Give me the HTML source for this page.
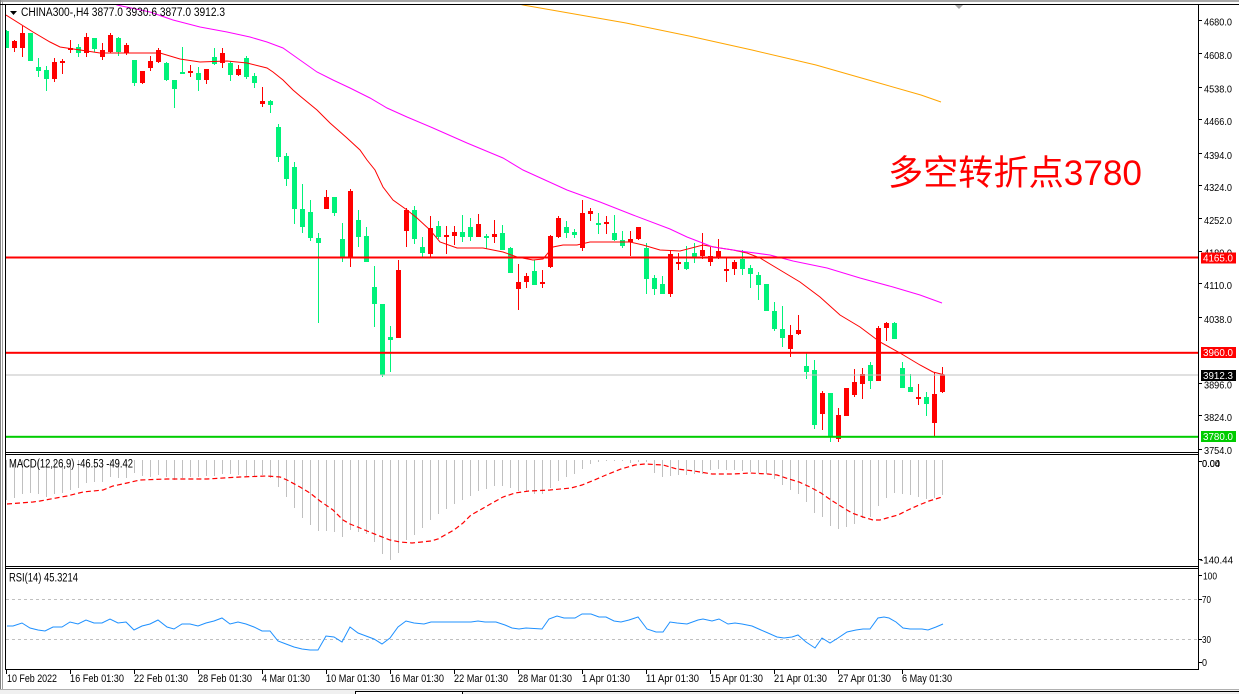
<!DOCTYPE html>
<html><head><meta charset="utf-8"><style>
html,body{margin:0;padding:0;background:#fff;}
svg{display:block;}
text{font-family:"Liberation Sans","Noto Sans CJK SC",sans-serif;}
</style></head><body>
<svg width="1239" height="694" viewBox="0 0 1239 694" xmlns="http://www.w3.org/2000/svg">
<defs>
<clipPath id="cm"><rect x="6" y="5" width="1192" height="447"/></clipPath>
<clipPath id="cd"><rect x="6" y="455" width="1192" height="111"/></clipPath>
<clipPath id="cr"><rect x="6" y="569" width="1192" height="100"/></clipPath>
</defs>
<rect x="0" y="0" width="1239" height="694" fill="#fff"/>
<rect x="0" y="0" width="1239" height="2" fill="#a8a8a8"/>
<rect x="0" y="0" width="1" height="690" fill="#808080"/>
<rect x="2" y="0" width="1" height="690" fill="#a0a0a0"/>

<g clip-path="url(#cm)">
<path fill="none" stroke="#00f27a" stroke-width="1" d="M6.5 30V48M30.5 33V61M38.5 58V77M46.5 66V91M78.5 44V57M94.5 38V52M118.5 37V56M134.5 60V86M166.5 62V81M174.5 80V108M182.5 47V73M198.5 67V91M214.5 48V65M230.5 61V81M246.5 56V79M254.5 73V88M270.5 100V113M278.5 124V162M286.5 153V186M294.5 162V224M302.5 184V233M310.5 200V241M318.5 233V323M334.5 197V216M342.5 223V262M358.5 210V247M366.5 227V262M374.5 266V327M382.5 304V377M390.5 326V372M414.5 206V244M422.5 237V257M438.5 221V239M462.5 215V242M470.5 218V241M486.5 234V249M502.5 225V250M510.5 247V273M534.5 260V285M566.5 221V238M574.5 229V238M598.5 213V234M614.5 215V241M622.5 231V248M646.5 243V294M654.5 275V295M662.5 276V294M686.5 246V270M694.5 243V263M742.5 250V275M750.5 265V288M758.5 272V300M766.5 284V311M774.5 302V331M782.5 306V347M806.5 353V379M814.5 360V429M830.5 393V442M870.5 362V389M894.5 322V339M902.5 362V388M910.5 374V392M926.5 392V416"/>
<path fill="#00f27a" d="M4 31h5v17h-5zM28 33h5v28h-5zM36 67h5v4h-5zM44 70h5v9h-5zM76 47h5v6h-5zM92 38h5v11h-5zM116 38h5v14h-5zM132 60h5v23h-5zM164 63h5v17h-5zM172 80h5v9h-5zM180 72h5v2h-5zM196 73h5v7h-5zM212 57h5v7h-5zM228 63h5v12h-5zM244 58h5v19h-5zM252 76h5v7h-5zM268 101h5v4h-5zM276 127h5v30h-5zM284 156h5v23h-5zM292 167h5v42h-5zM300 209h5v18h-5zM308 212h5v26h-5zM316 238h5v5h-5zM332 197h5v16h-5zM340 239h5v19h-5zM356 220h5v17h-5zM364 236h5v26h-5zM372 287h5v17h-5zM380 304h5v71h-5zM388 337h5v3h-5zM412 210h5v29h-5zM420 247h5v6h-5zM436 226h5v11h-5zM460 232h5v5h-5zM468 227h5v10h-5zM484 236h5v2h-5zM500 233h5v17h-5zM508 248h5v25h-5zM532 271h5v14h-5zM564 227h5v6h-5zM572 232h5v3h-5zM596 223h5v2h-5zM612 233h5v7h-5zM620 240h5v6h-5zM644 248h5v31h-5zM652 278h5v11h-5zM660 284h5v10h-5zM684 262h5v7h-5zM692 253h5v4h-5zM740 259h5v10h-5zM748 268h5v6h-5zM756 275h5v10h-5zM764 284h5v27h-5zM772 311h5v18h-5zM780 329h5v9h-5zM804 366h5v6h-5zM812 370h5v55h-5zM828 393h5v44h-5zM868 365h5v16h-5zM892 323h5v16h-5zM900 368h5v20h-5zM908 387h5v5h-5zM924 397h5v7h-5z"/>
<path fill="none" stroke="#ff0000" stroke-width="1" d="M14.5 40V52M22.5 26V57M54.5 58V82M62.5 59V74M70.5 40V53M86.5 33V57M102.5 43V60M110.5 33V53M126.5 43V55M142.5 71V84M150.5 56V71M158.5 48V63M190.5 65V77M206.5 69V84M222.5 48V68M238.5 65V76M262.5 87V107M326.5 190V209M350.5 189V267M398.5 260V338M406.5 208V247M430.5 216V257M446.5 226V254M454.5 226V245M478.5 214V237M494.5 220V243M518.5 264V310M526.5 273V288M542.5 270V288M550.5 235V268M558.5 216V238M582.5 200V251M590.5 208V221M606.5 216V234M630.5 231V256M638.5 227V240M670.5 251V297M678.5 253V270M702.5 233V259M710.5 247V266M718.5 239V259M726.5 258V282M734.5 260V275M790.5 325V357M798.5 315V335M822.5 391V430M838.5 408V442M846.5 388V416M854.5 369V397M862.5 368V399M878.5 326V381M886.5 322V341M918.5 384V405M934.5 372V437M942.5 367V393"/>
<path fill="#ff0000" d="M12 41h5v7h-5zM20 33h5v15h-5zM52 62h5v17h-5zM60 61h5v2h-5zM68 48h5v2h-5zM84 37h5v16h-5zM100 50h5v7h-5zM108 35h5v17h-5zM124 45h5v8h-5zM140 71h5v12h-5zM148 61h5v7h-5zM156 50h5v12h-5zM188 71h5v2h-5zM204 69h5v11h-5zM220 53h5v10h-5zM236 69h5v6h-5zM260 101h5v3h-5zM324 197h5v12h-5zM348 191h5v67h-5zM396 270h5v68h-5zM404 210h5v21h-5zM428 228h5v26h-5zM444 235h5v2h-5zM452 232h5v4h-5zM476 224h5v13h-5zM492 234h5v3h-5zM516 282h5v7h-5zM524 276h5v6h-5zM540 282h5v2h-5zM548 236h5v31h-5zM556 218h5v19h-5zM580 213h5v35h-5zM588 211h5v3h-5zM604 222h5v2h-5zM628 239h5v3h-5zM636 227h5v12h-5zM668 254h5v40h-5zM676 262h5v2h-5zM700 250h5v6h-5zM708 256h5v6h-5zM716 251h5v6h-5zM724 269h5v2h-5zM732 262h5v7h-5zM788 335h5v14h-5zM796 330h5v4h-5zM820 393h5v21h-5zM836 415h5v24h-5zM844 388h5v28h-5zM852 382h5v13h-5zM860 374h5v10h-5zM876 328h5v53h-5zM884 323h5v5h-5zM916 397h5v2h-5zM932 394h5v29h-5zM940 375h5v17h-5z"/>

<polyline fill="none" stroke="#ff0000" stroke-width="1" points="6,15 33,32 50,42 60,47 80,50 100,53 133,53 160,53 180,59 200,62 227,61 247,63 267,68 273,72 283,80 293,90 300,96 317,110 330,123 347,138 360,150 367,160 375,170 383,187 393,200 407,210 417,218 430,230 440,242 457,248 483,248 503,252 517,257 533,260 543,259 553,247 563,245 577,245 590,242 630,242 643,245 660,250 680,251 703,245 720,248 733,250 747,253 760,258 780,270 800,282 820,297 840,315 860,327 880,342 900,353 920,365 933,372 945,375"/>
<polyline fill="none" stroke="#ff00ff" stroke-width="1" points="113,3 117,5 150,12 173,20 200,27 227,32 250,37 267,42 283,48 300,60 317,72 333,80 350,88 370,98 387,108 407,117 433,128 467,143 503,158 523,170 567,190 600,202 633,215 670,229 687,237 713,247 740,251 770,255 793,261 827,268 860,278 893,287 920,295 942,303"/>
<polyline fill="none" stroke="#ffa500" stroke-width="1" points="515,3 523,5 563,12 626,23 689,36 752,50 816,65 879,83 921,95 941,102"/>

<rect x="6" y="374.5" width="1192" height="1" fill="#c0c0c0"/>
<rect x="6" y="256.5" width="1192" height="2" fill="#ff0000"/>
<rect x="6" y="351.8" width="1192" height="2" fill="#ff0000"/>
<rect x="6" y="435.8" width="1192" height="2" fill="#00cc00"/>
</g>

<polygon points="10,11 17,11 13.5,15" fill="#000"/>
<text x="21" y="16" font-size="11.5" textLength="204" lengthAdjust="spacingAndGlyphs" fill="#000">CHINA300-,H4 3877.0 3930.6 3877.0 3912.3</text>
<polygon points="955,5 963,5 959,9" fill="#a8a8a8"/>

<text x="888" y="185" font-size="35" fill="#ff0000" textLength="254" lengthAdjust="spacingAndGlyphs">多空转折点3780</text>

<g clip-path="url(#cd)">
<path fill="none" stroke="#c0c0c0" stroke-width="1" d="M6.5 460V500M14.5 460V498M22.5 460V494M30.5 460V493M38.5 460V494M46.5 460V497M54.5 460V494M62.5 460V493M70.5 460V490M78.5 460V488M86.5 460V483M94.5 460V482M102.5 460V482M110.5 460V477M118.5 460V478M126.5 460V478M134.5 460V473M142.5 460V476M150.5 460V477M158.5 460V475M166.5 460V477M174.5 460V480M182.5 460V478M190.5 460V477M198.5 460V477M206.5 460V476M214.5 460V476M222.5 460V474M230.5 460V474M238.5 460V475M246.5 460V476M254.5 460V476M262.5 460V475M270.5 460V478M278.5 460V487M286.5 460V497M294.5 460V508M302.5 460V518M310.5 460V525M318.5 460V531M326.5 460V531M334.5 460V532M342.5 460V537M350.5 460V530M358.5 460V532M366.5 460V534M374.5 460V542M382.5 460V554M390.5 460V560M398.5 460V553M406.5 460V540M414.5 460V535M422.5 460V528M430.5 460V520M438.5 460V514M446.5 460V509M454.5 460V504M462.5 460V500M470.5 460V496M478.5 460V491M486.5 460V489M494.5 460V486M502.5 460V486M510.5 460V488M518.5 460V491M526.5 460V492M534.5 460V494M542.5 460V494M550.5 460V488M558.5 460V481M566.5 460V477M574.5 460V474M582.5 460V469M590.5 460V464M598.5 460V462M606.5 460V461M614.5 460V461M622.5 460V461M630.5 460V463M638.5 460V462M646.5 460V462M654.5 460V473M662.5 460V477M670.5 460V476M678.5 460V475M686.5 460V475M694.5 460V474M702.5 460V474M710.5 460V470M718.5 460V469M726.5 460V470M734.5 460V470M742.5 460V471M750.5 460V472M758.5 460V473M766.5 460V474M774.5 460V479M782.5 460V485M790.5 460V490M798.5 460V494M806.5 460V502M814.5 460V513M822.5 460V517M830.5 460V526M838.5 460V529M846.5 460V527M854.5 460V524M862.5 460V518M870.5 460V517M878.5 460V506M886.5 460V498M894.5 460V493M902.5 460V494M910.5 460V495M918.5 460V497M926.5 460V499M934.5 460V498M942.5 460V495"/>
<polyline fill="none" stroke="#ff0000" stroke-width="1.2" stroke-dasharray="5 3" points="7,504 33,502 40,501 67,496 83,492 103,490 113,486 127,483 140,480 167,479 207,479 240,477 267,476 280,477 287,480 300,487 310,493 320,501 333,510 343,520 350,524 360,528 367,531 377,535 390,540 400,542 412,543 431,541 438,539 445,535 454,530 463,523 471,515 480,510 487,506 494,502 503,497 515,493 529,491 550,490 571,488 582,485 592,481 606,475 621,469 635,465 645,464 663,465 677,469 694,471 712,474 733,474 750,473 768,474 777,475 789,479 799,482 810,487 821,493 831,500 842,507 852,513 863,517 873,520 880,520 887,518 898,515 908,510 919,505 929,501 942,497"/>
</g>
<text x="9" y="467.5" font-size="11.5" textLength="124" lengthAdjust="spacingAndGlyphs" fill="#000">MACD(12,26,9) -46.53 -49.42</text>

<g clip-path="url(#cr)">
<line x1="6" y1="599.5" x2="1198" y2="599.5" stroke="#c0c0c0" stroke-width="1" stroke-dasharray="3 3"/>
<line x1="6" y1="639.5" x2="1198" y2="639.5" stroke="#c0c0c0" stroke-width="1" stroke-dasharray="3 3"/>
<polyline fill="none" stroke="#1e90ff" stroke-width="1" points="7,626 13,626 22,623 30,628 38,630 45,631 53,627 62,627 70,622 78,624 86,620 94,623 102,623 110,619 118,623 126,622 134,630 142,626 150,624 158,620 167,627 174,629 182,624 190,624 198,626 206,623 214,621 222,618 230,624 238,622 246,624 254,627 262,631 270,631 278,641 286,644 294,647 302,649 310,650 318,650 326,636 334,637 342,642 350,627 358,633 366,636 374,639 382,644 390,638 398,627 406,621 414,623 424,624 431,622 438,622 471,622 478,621 485,622 496,622 505,625 512,628 519,629 526,628 542,629 549,619 557,616 564,618 575,618 582,614 591,614 599,617 606,617 614,621 621,622 629,620 638,617 647,629 656,632 663,632 670,622 677,623 687,624 698,620 703,619 712,621 719,619 728,624 735,623 742,624 752,626 761,630 768,633 777,637 784,638 792,637 798,635 806,642 815,648 822,638 830,643 838,638 847,632 856,630 863,629 870,629 878,618 884,617 889,618 896,622 903,628 910,629 922,629 928,630 936,627 943,624"/>
</g>
<text x="9" y="581.5" font-size="11.5" textLength="69" lengthAdjust="spacingAndGlyphs" fill="#000">RSI(14) 45.3214</text>

<g fill="none" stroke="#000" stroke-width="1">
<line x1="0" y1="4.5" x2="1239" y2="4.5"/>
<line x1="5.5" y1="4" x2="5.5" y2="670"/>
<line x1="1198.5" y1="4" x2="1198.5" y2="670"/>
<line x1="5" y1="452.5" x2="1199" y2="452.5"/>
<line x1="5" y1="454.5" x2="1199" y2="454.5"/>
<line x1="5" y1="566.5" x2="1199" y2="566.5"/>
<line x1="5" y1="568.5" x2="1199" y2="568.5"/>
<line x1="5" y1="669.5" x2="1199" y2="669.5"/>
<path d="M1198 20.5h4M1198 53.5h4M1198 87.5h4M1198 119.5h4M1198 153.5h4M1198 185.5h4M1198 218.5h4M1198 251.5h4M1198 283.5h4M1198 317.5h4M1198 383.5h4M1198 415.5h4M1198 449.5h4M1198 461.5h4M1198 559.5h4M1198 575.5h4M1198 599.5h4M1198 639.5h4M1198 662.5h4"/>
<path d="M6.5 669v5M70.5 669v5M134.5 669v5M198.5 669v5M262.5 669v5M326.5 669v5M390.5 669v5M454.5 669v5M518.5 669v5M582.5 669v5M646.5 669v5M710.5 669v5M774.5 669v5M838.5 669v5M902.5 669v5"/>
</g>

<g font-size="10.5" fill="#000">
<text x="1204" y="25.5" textLength="28" lengthAdjust="spacingAndGlyphs">4680.0</text>
<text x="1204" y="58.8" textLength="28" lengthAdjust="spacingAndGlyphs">4608.0</text>
<text x="1204" y="92.5" textLength="28" lengthAdjust="spacingAndGlyphs">4538.0</text>
<text x="1204" y="125" textLength="28" lengthAdjust="spacingAndGlyphs">4466.0</text>
<text x="1204" y="158.8" textLength="28" lengthAdjust="spacingAndGlyphs">4394.0</text>
<text x="1204" y="191" textLength="28" lengthAdjust="spacingAndGlyphs">4324.0</text>
<text x="1204" y="224" textLength="28" lengthAdjust="spacingAndGlyphs">4252.0</text>
<text x="1204" y="256.5" textLength="28" lengthAdjust="spacingAndGlyphs">4180.0</text>
<text x="1204" y="288.8" textLength="28" lengthAdjust="spacingAndGlyphs">4110.0</text>
<text x="1204" y="323" textLength="28" lengthAdjust="spacingAndGlyphs">4038.0</text>
<text x="1204" y="388.5" textLength="28" lengthAdjust="spacingAndGlyphs">3896.0</text>
<text x="1204" y="421" textLength="28" lengthAdjust="spacingAndGlyphs">3824.0</text>
<text x="1204" y="454" textLength="28" lengthAdjust="spacingAndGlyphs">3754.0</text>
<text x="1202" y="467" textLength="18" lengthAdjust="spacingAndGlyphs">0.04</text>
<text x="1202" y="467" textLength="18" lengthAdjust="spacingAndGlyphs">0.00</text>
<text x="1200" y="563.5" textLength="33" lengthAdjust="spacingAndGlyphs">-140.44</text>
<text x="1203" y="579.5" textLength="14" lengthAdjust="spacingAndGlyphs">100</text>
<text x="1202" y="603" textLength="9" lengthAdjust="spacingAndGlyphs">70</text>
<text x="1202" y="643" textLength="9" lengthAdjust="spacingAndGlyphs">30</text>
<text x="1202" y="666" textLength="5" lengthAdjust="spacingAndGlyphs">0</text>
</g>

<rect x="1201" y="252.5" width="35" height="11" fill="#ff0000"/>
<text x="1203" y="261.5" font-size="10.5" fill="#fff" textLength="30" lengthAdjust="spacingAndGlyphs">4165.0</text>
<rect x="1201" y="347" width="35" height="11" fill="#ff0000"/>
<text x="1203" y="356" font-size="10.5" fill="#fff" textLength="30" lengthAdjust="spacingAndGlyphs">3960.0</text>
<rect x="1201" y="370" width="35" height="11" fill="#000"/>
<text x="1203" y="379" font-size="10.5" fill="#fff" textLength="30" lengthAdjust="spacingAndGlyphs">3912.3</text>
<rect x="1201" y="431" width="35" height="11" fill="#00cc00"/>
<text x="1203" y="440" font-size="10.5" fill="#fff" textLength="30" lengthAdjust="spacingAndGlyphs">3780.0</text>

<g font-size="11" fill="#000">
<text x="7" y="682" textLength="50" lengthAdjust="spacingAndGlyphs">10 Feb 2022</text>
<text x="70" y="682" textLength="54" lengthAdjust="spacingAndGlyphs">16 Feb 01:30</text>
<text x="134" y="682" textLength="54" lengthAdjust="spacingAndGlyphs">22 Feb 01:30</text>
<text x="198" y="682" textLength="54" lengthAdjust="spacingAndGlyphs">28 Feb 01:30</text>
<text x="262" y="682" textLength="48" lengthAdjust="spacingAndGlyphs">4 Mar 01:30</text>
<text x="326" y="682" textLength="54" lengthAdjust="spacingAndGlyphs">10 Mar 01:30</text>
<text x="390" y="682" textLength="54" lengthAdjust="spacingAndGlyphs">16 Mar 01:30</text>
<text x="454" y="682" textLength="54" lengthAdjust="spacingAndGlyphs">22 Mar 01:30</text>
<text x="518" y="682" textLength="54" lengthAdjust="spacingAndGlyphs">28 Mar 01:30</text>
<text x="582" y="682" textLength="48" lengthAdjust="spacingAndGlyphs">1 Apr 01:30</text>
<text x="646" y="682" textLength="53" lengthAdjust="spacingAndGlyphs">11 Apr 01:30</text>
<text x="710" y="682" textLength="53" lengthAdjust="spacingAndGlyphs">15 Apr 01:30</text>
<text x="774" y="682" textLength="53" lengthAdjust="spacingAndGlyphs">21 Apr 01:30</text>
<text x="838" y="682" textLength="53" lengthAdjust="spacingAndGlyphs">27 Apr 01:30</text>
<text x="902" y="682" textLength="50" lengthAdjust="spacingAndGlyphs">6 May 01:30</text>
</g>

<rect x="0" y="689" width="1239" height="5" fill="#f0f0f0"/>
<line x1="0" y1="689.5" x2="1239" y2="689.5" stroke="#b0b0b0" stroke-width="1"/>
<path d="M355.5 694V691.5H1239M462.5 691.5V694" fill="none" stroke="#000" stroke-width="1"/>
<rect x="356" y="692" width="106" height="2" fill="#fff"/>
</svg>
</body></html>
